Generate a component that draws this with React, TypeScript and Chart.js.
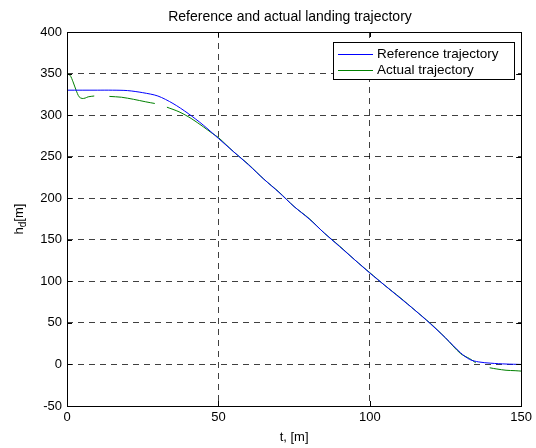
import React, { useEffect, useRef } from "react";
import { Chart, registerables } from "chart.js";

Chart.register(...registerables);

const titleText = "Reference and actual landing trajectory";
const xTitle = "t, [m]";
const yTitleMain = "h";
const yTitleSub = "d";
const yTitleUnit = "[m]";
const seriesNames = ["Reference trajectory", "Actual trajectory"];

const xTicks = [0, 50, 100, 150];
const yTicks = [-50, 0, 50, 100, 150, 200, 250, 300, 350, 400];

const tRef = [0, 10, 15, 20, 25, 30, 35, 40, 45, 50, 55, 60, 65, 70, 75, 80, 85, 90, 95, 100, 105, 110, 115, 120, 125, 130, 133, 136, 140, 145, 150];
const hRef = [330, 330, 330, 329.5, 327, 323, 314, 302, 288, 272, 256, 240, 223, 207, 190, 175, 158, 142, 126, 110, 95, 80, 65, 49, 32, 14, 6, 3, 1.5, 0.5, 0];

const tAct = [0, 1, 2, 3, 4, 5, 6, 7, 9, 9.5, 14, 18, 22, 26, 29, 30, 33, 37, 41, 45, 48, 50, 55, 60, 65, 70, 75, 80, 85, 90, 95, 100, 105, 110, 115, 120, 125, 130, 133, 135, 136, 139.6, 142, 145, 148, 150];
const hAct: (number | null)[] = [350, 348, 340, 330, 322, 320, 320.5, 322, 323, null, 322.5, 321.5, 319, 316, 314, null, 309.5, 304, 296, 286, 278, 273, 256, 240.5, 223, 207.5, 190, 175.5, 158, 142.5, 126, 110.5, 95, 80.5, 65, 49.5, 32, 13, 7, 2, null, -4, -5.5, -7, -7.5, -8];

const FONT = "Arial, 'Liberation Sans', sans-serif";

export default function App() {
  const ref = useRef<HTMLCanvasElement | null>(null);

  useEffect(() => {
    document.body.style.margin = "0";
    const canvas = ref.current;
    if (!canvas) return;

    const framePlugin = {
      id: "matlabFrame",
      afterDraw(chart: any) {
        const ctx = chart.ctx as CanvasRenderingContext2D;
        const a = chart.chartArea;
        const xs = chart.scales.x;
        const ys = chart.scales.y;
        ctx.save();
        ctx.strokeStyle = "#000";
        ctx.lineWidth = 1;
        ctx.setLineDash([]);
        ctx.strokeRect(Math.round(a.left) + 0.5, Math.round(a.top) + 0.5, Math.round(a.right - a.left), Math.round(a.bottom - a.top));
        const tl = 5;
        ctx.beginPath();
        for (const v of xTicks) {
          const px = Math.round(xs.getPixelForValue(v)) + 0.5;
          ctx.moveTo(px, a.bottom);
          ctx.lineTo(px, a.bottom - tl);
          ctx.moveTo(px, a.top);
          ctx.lineTo(px, a.top + tl);
        }
        for (const v of yTicks) {
          const py = Math.round(ys.getPixelForValue(v)) + 0.5;
          ctx.moveTo(a.left, py);
          ctx.lineTo(a.left + tl, py);
          ctx.moveTo(a.right, py);
          ctx.lineTo(a.right - tl, py);
        }
        ctx.stroke();

        ctx.fillStyle = "#000";
        ctx.font = `14px ${FONT}`;
        ctx.textAlign = "center";
        ctx.textBaseline = "middle";
        ctx.fillText(titleText, 290, 17);
        ctx.font = `13px ${FONT}`;
        ctx.fillText(xTitle, (a.left + a.right) / 2, 437);
        ctx.save();
        ctx.translate(19, (a.top + a.bottom) / 2);
        ctx.rotate(-Math.PI / 2);
        ctx.font = `13px ${FONT}`;
        const wMain = ctx.measureText(yTitleMain).width;
        const wUnit = ctx.measureText(yTitleUnit).width;
        ctx.font = `10px ${FONT}`;
        const wSub = ctx.measureText(yTitleSub).width;
        const total = wMain + wSub + wUnit;
        let cx = -total / 2;
        ctx.textAlign = "left";
        ctx.textBaseline = "alphabetic";
        ctx.font = `13px ${FONT}`;
        ctx.fillText(yTitleMain, cx, 4);
        cx += wMain;
        ctx.font = `10px ${FONT}`;
        ctx.fillText(yTitleSub, cx, 7);
        cx += wSub;
        ctx.font = `13px ${FONT}`;
        ctx.fillText(yTitleUnit, cx, 4);
        ctx.restore();

        const lx = 333, ly = 42, lw = 181, lh = 37;
        ctx.fillStyle = "#fff";
        ctx.fillRect(lx, ly, lw, lh);
        ctx.strokeStyle = "#000";
        ctx.strokeRect(lx + 0.5, ly + 0.5, lw, lh);
        const colors = ["#0000ff", "#008000"];
        const rows = [54.5, 70.5];
        for (let i = 0; i < 2; i++) {
          ctx.strokeStyle = colors[i];
          ctx.beginPath();
          ctx.moveTo(338, rows[i]);
          ctx.lineTo(373, rows[i]);
          ctx.stroke();
          ctx.fillStyle = "#000";
          ctx.font = `13.5px ${FONT}`;
          ctx.textAlign = "left";
          ctx.textBaseline = "middle";
          ctx.fillText(seriesNames[i], 377, rows[i]);
        }
        ctx.restore();
      },
    };

    const refData = tRef.map((t, i) => ({ x: t, y: hRef[i] }));
    const actData = tAct.map((t, i) => ({ x: t, y: hAct[i] }));

    const chart = new Chart(canvas, {
      type: "line",
      data: {
        datasets: [
          { label: seriesNames[0], data: refData as any, borderColor: "#0000ff", borderWidth: 1, pointRadius: 0, tension: 0.3, spanGaps: false },
          { label: seriesNames[1], data: actData as any, borderColor: "#008000", borderWidth: 1, pointRadius: 0, tension: 0.3, spanGaps: false },
        ],
      },
      options: {
        responsive: false,
        animation: false,
        layout: { padding: { top: 32, right: 14, left: 0, bottom: 0 } },
        plugins: { legend: { display: false }, tooltip: { enabled: false }, title: { display: false } },
        scales: {
          x: {
            type: "linear",
            min: 0,
            max: 150,
            afterBuildTicks: (s: any) => { s.ticks = xTicks.map((v) => ({ value: v })); },
            afterFit: (s: any) => { s.height = 42; },
            ticks: { color: "#000", font: { family: FONT, size: 13 }, padding: 4, maxRotation: 0 },
            grid: { color: "rgba(0,0,0,0.75)", lineWidth: 1, drawTicks: false },
            border: { display: false, dash: [6, 5] },
          },
          y: {
            type: "linear",
            min: -50,
            max: 400,
            afterBuildTicks: (s: any) => { s.ticks = yTicks.map((v) => ({ value: v })); },
            afterFit: (s: any) => { s.width = 67; },
            ticks: { color: "#000", font: { family: FONT, size: 13 }, padding: 5 },
            grid: { color: "rgba(0,0,0,0.75)", lineWidth: 1, drawTicks: false },
            border: { display: false, dash: [6, 5] },
          },
        },
      },
      plugins: [framePlugin],
    });
    return () => chart.destroy();
  }, []);

  return <canvas ref={ref} width={536} height={448} style={{ display: "block" }} />;
}
